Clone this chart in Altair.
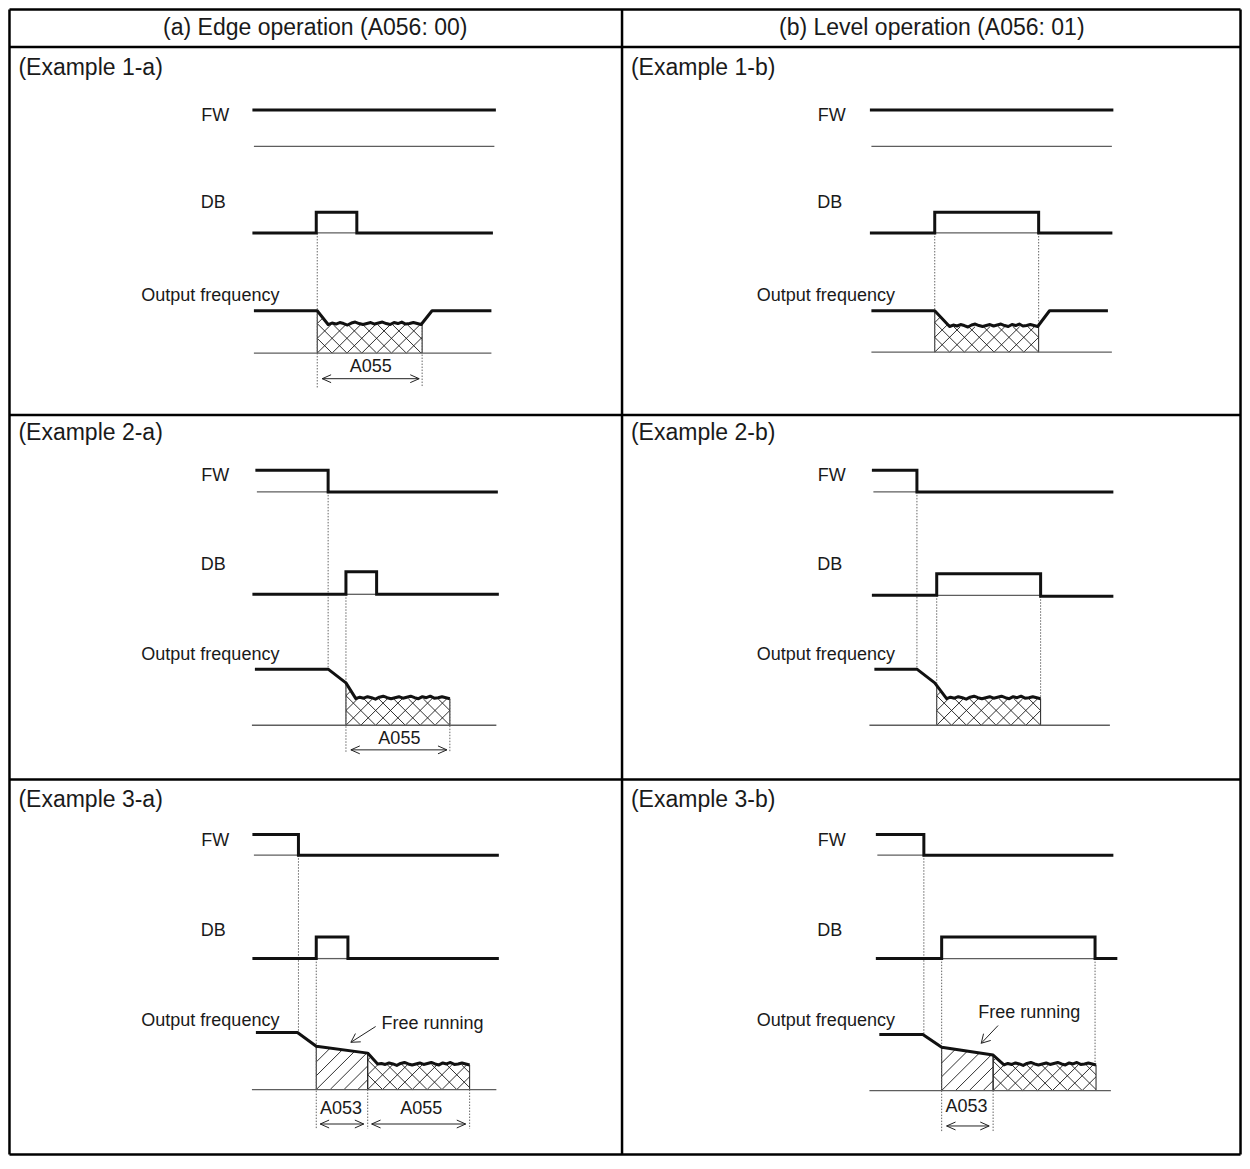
import numpy as np
import pandas as pd
import altair as alt

# ---------------- table frame (diagram units) ----------------
FRAME_X = [3, 622, 1247]
FRAME_Y = [3, 41, 415, 785, 1166]

HEADER_TEXT = ["(a) Edge operation (A056: 00)", "(b) Level operation (A056: 01)"]
HEADER_X = [312, 935]
HEADER_Y = [22, 22]

EXAMPLE_TEXT = ["(Example 1-a)", "(Example 1-b)", "(Example 2-a)",
                "(Example 2-b)", "(Example 3-a)", "(Example 3-b)"]
EXAMPLE_X = [12, 631, 12, 631, 12, 631]
EXAMPLE_Y = [62, 62, 433, 433, 806, 806]

SIGNAL_TEXT = ["FW", "DB", "Output frequency"]
SIGNAL_X = [[211, 209, 206], [834, 832, 828]]
SIGNAL_Y = [[111, 200, 294], [477, 567, 659], [848, 939, 1030]]

# small bumps of the "braking" (wavy) part of the output frequency
WAVE = [0, -1.5, -0.5, -2, -1, 0.5, -1.5, -2.5, -1, 0, -1, -2, -0.5,
        -1.5, -2.5, -1, 0, -2, -1, -2.5, -0.5, -1, -2, -1, 0]

# ---------------- timing diagrams ----------------
E1A = dict(
    fw=[(250, 105), (493, 105)], fw_ref=[(250, 142), (493, 142)],
    db=[(250, 230), (313, 230), (313, 209), (354, 209), (354, 230), (490, 230)],
    db_ref=[(313, 230), (354, 230)],
    of_pre=[(250, 309), (314, 309), (325, 323)], wave=(325, 419, 323),
    of_post=[(430, 309), (490, 309)],
    base=[(250, 352), (490, 352)],
    single=None, cross=(314, 420),
    dotted=[(314, 230, 387), (420, 323, 387)],
    arrows=[(319, 417, 378, "A055", 368, 366)], free=None)

E1B = dict(
    fw=[(874, 105), (1117, 105)], fw_ref=[(874, 142), (1117, 142)],
    db=[(874, 230), (938, 230), (938, 209), (1043, 209), (1043, 230), (1116, 230)],
    db_ref=[(938, 230), (1043, 230)],
    of_pre=[(874, 309), (938, 309), (953, 325)], wave=(953, 1042, 325),
    of_post=[(1054, 309), (1113, 309)],
    base=[(874, 351), (1117, 351)],
    single=None, cross=(938, 1043),
    dotted=[(938, 230, 351), (1043, 230, 325)],
    arrows=[], free=None)

E2A = dict(
    fw=[(253, 471), (325, 471), (325, 493), (495, 493)], fw_ref=[(253, 493), (325, 493)],
    db=[(250, 597), (343, 597), (343, 574), (374, 574), (374, 597), (496, 597)],
    db_ref=[(343, 597), (374, 597)],
    of_pre=[(251, 673), (325, 673), (343, 687), (353, 703)], wave=(353, 448, 703),
    of_post=[],
    base=[(248, 730), (495, 730)],
    single=None, cross=(343, 448),
    dotted=[(325, 493, 673), (343, 597, 757), (448, 703, 757)],
    arrows=[(348, 445, 755, "A055", 397, 744)], free=None)

E2B = dict(
    fw=[(876, 471), (920, 471), (920, 493), (1117, 493)], fw_ref=[(876, 493), (920, 493)],
    db=[(876, 598), (940, 598), (940, 576), (1045, 576), (1045, 599), (1117, 599)],
    db_ref=[(940, 598), (1045, 598)],
    of_pre=[(877, 673), (920, 673), (938, 687), (950, 703)], wave=(950, 1045, 703),
    of_post=[],
    base=[(872, 730), (1115, 730)],
    single=None, cross=(940, 1045),
    dotted=[(920, 493, 673), (940, 598, 730), (1045, 599, 703)],
    arrows=[], free=None)

E3A = dict(
    fw=[(250, 841), (295, 841), (295, 862), (496, 862)], fw_ref=[(250, 862), (295, 862)],
    db=[(250, 967), (313, 967), (313, 945), (345, 945), (345, 967), (496, 967)],
    db_ref=[(313, 967), (345, 967)],
    of_pre=[(252, 1042), (294, 1042), (313, 1056), (365, 1063), (375, 1074)],
    wave=(375, 468, 1075), of_post=[],
    base=[(248, 1100), (495, 1100)],
    single=(313, 365), cross=(365, 468),
    dotted=[(295, 862, 1042), (313, 967, 1140), (365, 1100, 1140), (468, 1100, 1140)],
    arrows=[(317, 361, 1135, "A053", 338, 1120), (369, 464, 1135, "A055", 419, 1120)],
    free=("Free running", 379, 1033, (373, 1036), (348, 1052)))

E3B = dict(
    fw=[(880, 841), (927, 841), (927, 862), (1117, 862)], fw_ref=[(880, 862), (927, 862)],
    db=[(880, 967), (945, 967), (945, 945), (1100, 945), (1100, 967), (1121, 967)],
    db_ref=[(945, 967), (1100, 967)],
    of_pre=[(882, 1044), (926, 1044), (945, 1057), (997, 1065), (1008, 1075)],
    wave=(1008, 1101, 1075), of_post=[],
    base=[(872, 1101), (1116, 1101)],
    single=(945, 997), cross=(997, 1101),
    dotted=[(927, 862, 1044), (945, 967, 1143), (997, 1101, 1143), (1100, 967, 1075)],
    arrows=[(950, 993, 1137, "A053", 970, 1118)],
    free=("Free running", 982, 1022, (1002, 1035), (985, 1053)))

EXAMPLES = [E1A, E1B, E2A, E2B, E3A, E3B]

# ---------------- geometry helpers ----------------
def hatch_segments(xl, xr, top_pts, base, step, sign):
    tx = [p[0] for p in top_pts]
    ty = [p[1] for p in top_pts]
    xs = np.arange(xl, xr + 1e-9, 0.2)
    tops = np.interp(xs, tx, ty)
    c_ref = base - sign * xl
    cands = [tops.min() - sign * xl, tops.min() - sign * xr, base - sign * xl, base - sign * xr]
    cmin, cmax = min(cands), max(cands)
    k0 = int(np.floor((cmin - c_ref) / step)) - 1
    k1 = int(np.ceil((cmax - c_ref) / step)) + 1
    segs = []
    for k in range(k0, k1 + 1):
        c = c_ref + k * step
        ys = c + sign * xs
        inside = (ys >= tops) & (ys <= base)
        idx = np.flatnonzero(inside)
        if idx.size == 0:
            continue
        breaks = np.flatnonzero(np.diff(idx) > 1)
        starts = np.concatenate([[idx[0]], idx[breaks + 1]])
        ends = np.concatenate([idx[breaks], [idx[-1]]])
        for a, b in zip(starts, ends):
            if b - a < 4:
                continue
            segs.append((xs[a], ys[a], xs[b], ys[b]))
    return segs


thick_rows, of_rows, thin_rows = [], [], []
rules_frame, rules_hatch, rules_bound, rules_dot, rules_arrow = [], [], [], [], []
ann_rows, free_rows = [], []


def add_poly(rows, gid, pts):
    for i, (x, y) in enumerate(pts):
        rows.append(dict(g=gid, i=i, x=x, y=y))


for xv in FRAME_X:
    rules_frame.append(dict(x=xv, y=FRAME_Y[0], x2=xv, y2=FRAME_Y[-1]))
for yv in FRAME_Y:
    rules_frame.append(dict(x=FRAME_X[0], y=yv, x2=FRAME_X[-1], y2=yv))

HEAD_L, HEAD_H = 9, 4
for k, ex in enumerate(EXAMPLES):
    add_poly(thick_rows, f"{k}fw", ex["fw"])
    add_poly(thick_rows, f"{k}db", ex["db"])
    add_poly(thin_rows, f"{k}fwr", ex["fw_ref"])
    add_poly(thin_rows, f"{k}dbr", ex["db_ref"])
    add_poly(thin_rows, f"{k}base", ex["base"])
    w0, w1, lvl = ex["wave"]
    n = len(WAVE) - 1
    wave_pts = [(w0 + (w1 - w0) * j / n, lvl + WAVE[j]) for j in range(n + 1)]
    add_poly(of_rows, f"{k}of", ex["of_pre"] + wave_pts[1:] + ex["of_post"])
    top = ex["of_pre"] + [(w1, lvl)] + ex["of_post"]
    base_y = ex["base"][0][1]
    tx = [p[0] for p in top]
    ty = [p[1] for p in top]
    if ex["single"]:
        xl, xr = ex["single"]
        for s in hatch_segments(xl, xr, top, base_y, 14, -1):
            rules_hatch.append(dict(x=s[0], y=s[1], x2=s[2], y2=s[3]))
        for xb in (xl, xr):
            rules_bound.append(dict(x=xb, y=float(np.interp(xb, tx, ty)), x2=xb, y2=base_y))
    xl, xr = ex["cross"]
    for sign in (-1, 1):
        for s in hatch_segments(xl, xr, top, base_y, 15, sign):
            rules_hatch.append(dict(x=s[0], y=s[1], x2=s[2], y2=s[3]))
    for xb in (xl, xr):
        rules_bound.append(dict(x=xb, y=float(np.interp(xb, tx, ty)), x2=xb, y2=base_y))
    for (xd, y0, y1) in ex["dotted"]:
        rules_dot.append(dict(x=xd, y=y0, x2=xd, y2=y1))
    for (x1, x2, ya, lab, lx, ly) in ex["arrows"]:
        rules_arrow.append(dict(x=x1, y=ya, x2=x2, y2=ya))
        for xe, d in ((x1, 1), (x2, -1)):
            rules_arrow.append(dict(x=xe, y=ya, x2=xe + d * HEAD_L, y2=ya - HEAD_H))
            rules_arrow.append(dict(x=xe, y=ya, x2=xe + d * HEAD_L, y2=ya + HEAD_H))
        ann_rows.append(dict(t=lab, x=lx, y=ly))
    if ex["free"]:
        txt, fx, fy, tail, tip = ex["free"]
        free_rows.append(dict(t=txt, x=fx, y=fy))
        rules_arrow.append(dict(x=tail[0], y=tail[1], x2=tip[0], y2=tip[1]))
        d = np.array(tail, float) - np.array(tip, float)
        d /= np.linalg.norm(d)
        for ang in (np.radians(30), -np.radians(30)):
            r = np.array([d[0] * np.cos(ang) - d[1] * np.sin(ang),
                          d[0] * np.sin(ang) + d[1] * np.cos(ang)])
            rules_arrow.append(dict(x=tip[0], y=tip[1], x2=tip[0] + 10 * r[0], y2=tip[1] + 10 * r[1]))

header_df = pd.DataFrame(dict(t=HEADER_TEXT, x=HEADER_X, y=HEADER_Y))
example_df = pd.DataFrame(dict(t=EXAMPLE_TEXT, x=EXAMPLE_X, y=EXAMPLE_Y))
sig_rows = []
for r in range(3):
    for c in range(2):
        for s in range(3):
            sig_rows.append(dict(t=SIGNAL_TEXT[s], x=SIGNAL_X[c][s], y=SIGNAL_Y[r][s]))
signal_df = pd.DataFrame(sig_rows)

# ---------------- chart ----------------
XS = alt.Scale(domain=[1.5, 1248.5], nice=False, zero=False)
YS = alt.Scale(domain=[1.5, 1167.5], nice=False, zero=False, reverse=True)
FONT = "Liberation Sans"


def xy():
    return dict(x=alt.X("x:Q", scale=XS, axis=None), y=alt.Y("y:Q", scale=YS, axis=None))


def rules(rows, **kw):
    return alt.Chart(pd.DataFrame(rows)).mark_rule(**kw).encode(x2="x2:Q", y2="y2:Q", **xy())


def lines(rows, **kw):
    return alt.Chart(pd.DataFrame(rows)).mark_line(**kw).encode(
        detail="g:N", order="i:Q", **xy())


def texts(df, **kw):
    return alt.Chart(df).mark_text(font=FONT, color="#1a1a1a", baseline="middle", **kw).encode(
        text="t:N", **xy())


layers = [
    rules(rules_hatch, color="#1a1a1a", strokeWidth=0.9),
    rules(rules_bound, color="#222222", strokeWidth=1),
    lines(thin_rows, color="#5e5e5e", strokeWidth=1.3),
    rules(rules_dot, color="#666666", strokeWidth=1, strokeDash=[1.5, 1.5]),
    lines(thick_rows, color="#111111", strokeWidth=3, strokeJoin="miter", strokeCap="square"),
    lines(of_rows, color="#111111", strokeWidth=3, strokeJoin="round", strokeCap="butt"),
    rules(rules_arrow, color="#222222", strokeWidth=1),
    rules(rules_frame, color="#000000", strokeWidth=2.5),
    texts(header_df, align="center", fontSize=23),
    texts(example_df, align="left", fontSize=23),
    texts(signal_df, align="center", fontSize=18),
    texts(pd.DataFrame(ann_rows), align="center", fontSize=18),
    texts(pd.DataFrame(free_rows), align="left", fontSize=18),
]

chart = alt.layer(*layers).properties(
    width=1234, height=1148, padding=0,
    autosize=alt.AutoSizeParams(type="none"),
).configure_view(stroke=None)

chart.save("out.html", embed_options={"renderer": "svg", "actions": False})
